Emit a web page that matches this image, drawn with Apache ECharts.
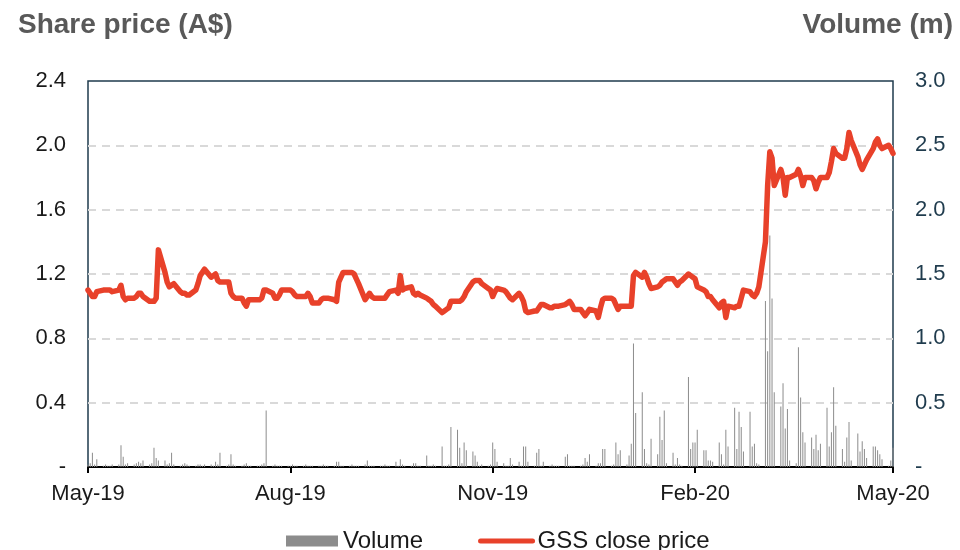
<!DOCTYPE html>
<html>
<head>
<meta charset="utf-8">
<script src="https://cdn.jsdelivr.net/npm/echarts@6/dist/echarts.min.js"></script>
<style>
  html, body { margin: 0; padding: 0; background: #fff; }
  #chart { width: 960px; height: 550px; }
</style>
</head>
<body>
<div id="chart"></div>
<script>
// first and last trading day shown
const startDate = new Date(2019, 3, 29);
const endDate = new Date(2020, 3, 29);

const tickLabels = ['May-19', 'Aug-19', 'Nov-19', 'Feb-20', 'May-20'];
const tickDayOffsets = [0, 92, 184, 276, 366];

// GSS close price (A$), one row per week, Mon..Fri
const price = [
  1.10, 1.08, 1.06, 1.06, 1.09,
  1.10, 1.10, 1.10, 1.10, 1.09,
  1.10, 1.13, 1.06, 1.04, 1.05,
  1.05, 1.06, 1.08, 1.08, 1.06,
  1.03, 1.03, 1.03, 1.05, 1.35,
  1.21, 1.15, 1.12, 1.13, 1.14,
  1.09, 1.08, 1.08, 1.07, 1.07,
  1.10, 1.14, 1.19, 1.21, 1.23,
  1.18, 1.19, 1.20, 1.16, 1.15,
  1.15, 1.15, 1.08, 1.06, 1.05,
  1.05, 1.02, 1.00, 1.04, 1.04,
  1.04, 1.04, 1.05, 1.10, 1.10,
  1.08, 1.05, 1.05, 1.07, 1.10,
  1.10, 1.10, 1.09, 1.07, 1.06,
  1.06, 1.06, 1.08, 1.06, 1.02,
  1.02, 1.04, 1.05, 1.05, 1.05,
  1.04, 1.03, 1.15, 1.18, 1.21,
  1.21, 1.21, 1.20, 1.17, 1.14,
  1.04, 1.06, 1.08, 1.06, 1.05,
  1.05, 1.05, 1.05, 1.07, 1.09,
  1.10, 1.08, 1.19, 1.10, 1.11,
  1.12, 1.08, 1.07, 1.08, 1.07,
  1.05, 1.04, 1.03, 1.01, 1.00,
  0.96, 0.97, 0.98, 0.99, 1.03,
  1.03, 1.03, 1.04, 1.06, 1.09,
  1.15, 1.16, 1.16, 1.16, 1.14,
  1.11, 1.10, 1.06, 1.09, 1.11,
  1.10, 1.09, 1.07, 1.05, 1.04,
  1.08, 1.06, 1.03, 0.97, 0.96,
  0.97, 0.97, 0.99, 1.01, 1.01,
  0.99, 0.99, 1.00, 1.00, 1.00,
  1.01, 1.02, 1.03, 1.01, 0.98,
  0.98, 0.96, 0.94, 0.96, 0.98,
  0.97, 0.93, 0.99, 1.04, 1.05,
  1.05, 1.04, 1.01, 0.98, 1.00,
  1.00, 1.00, 1.00, 1.19, 1.21,
  1.18, 1.21, 1.18, 1.14, 1.11,
  1.12, 1.13, 1.15, 1.16, 1.17,
  1.17, 1.15, 1.13, 1.15, 1.16,
  1.20, 1.19, 1.18, 1.17, 1.12,
  1.10, 1.09, 1.06, 1.06, 1.04,
  0.99, 1.02, 1.03, 0.93, 1.00,
  0.99, 1.00, 1.00, 1.05, 1.10,
  1.09, 1.07, 1.06, 1.08, 1.12,
  1.40, 1.75, 1.96, 1.92, 1.75,
  1.85, 1.80, 1.69, 1.80, 1.80,
  1.82, 1.85, 1.81, 1.75, 1.80,
  1.80, 1.78, 1.73, 1.77, 1.80,
  1.80, 1.83, 1.90, 1.98, 1.95,
  1.92, 1.92, 1.98, 2.08, 2.03,
  1.93, 1.88, 1.85, 1.88, 1.91,
  1.98, 2.02, 2.04, 2.00, 1.98,
  2.00, 1.98, 1.95
];

// daily volume (m), same days
const volume = [
  0.02, 0.03, 0.11, 0.02, 0.06,
  0.01, 0.02, 0.01, 0.01, 0.02,
  0.02, 0.17, 0.08, 0.02, 0.03,
  0.02, 0.03, 0.04, 0.03, 0.05,
  0.02, 0.03, 0.15, 0.07, 0.05,
  0.05, 0.02, 0.03, 0.11, 0.02,
  0.01, 0.02, 0.03, 0.02, 0.01,
  0.01, 0.02, 0.02, 0.01, 0.02,
  0.02, 0.01, 0.04, 0.02, 0.11,
  0.01, 0.02, 0.10, 0.02, 0.01,
  0.01, 0.02, 0.03, 0.01, 0.01,
  0.01, 0.01, 0.02, 0.03, 0.44,
  0.01, 0.02, 0.01, 0.01, 0.01,
  0.01, 0.01, 0.02, 0.01, 0.01,
  0.01, 0.02, 0.01, 0.01, 0.01,
  0.01, 0.01, 0.02, 0.01, 0.01,
  0.01, 0.04, 0.04, 0.01, 0.01,
  0.01, 0.02, 0.01, 0.01, 0.01,
  0.02, 0.05, 0.01, 0.01, 0.01,
  0.01, 0.01, 0.02, 0.01, 0.01,
  0.04, 0.01, 0.06, 0.02, 0.01,
  0.01, 0.03, 0.03, 0.01, 0.01,
  0.09, 0.01, 0.01, 0.02, 0.01,
  0.16, 0.01, 0.01, 0.02, 0.31,
  0.29, 0.15, 0.03, 0.19, 0.13,
  0.12, 0.09, 0.04, 0.01, 0.02,
  0.01, 0.02, 0.19, 0.14, 0.04,
  0.03, 0.01, 0.01, 0.07, 0.02,
  0.04, 0.01, 0.16, 0.16, 0.04,
  0.01, 0.11, 0.14, 0.01, 0.04,
  0.01, 0.02, 0.01, 0.01, 0.01,
  0.08, 0.10, 0.01, 0.01, 0.01,
  0.01, 0.02, 0.07, 0.04, 0.10,
  0.01, 0.03, 0.03, 0.14, 0.14,
  0.01, 0.02, 0.19, 0.10, 0.13,
  0.02, 0.09, 0.18, 0.96, 0.42,
  0.58, 0.14, 0.03, 0.02, 0.22,
  0.10, 0.39, 0.21, 0.44, 0.03,
  0.11, 0.02, 0.07, 0.02, 0.01,
  0.70, 0.14, 0.19, 0.19, 0.29,
  0.13, 0.13, 0.05, 0.05, 0.04,
  0.19, 0.10, 0.02, 0.29, 0.16,
  0.46, 0.14, 0.43, 0.31, 0.12,
  0.43, 0.16, 0.18, 0.03, 0.02,
  1.29, 0.90, 1.80, 1.31, 0.58,
  0.47, 0.65, 0.30, 0.45, 0.05,
  0.03, 0.93, 0.54, 0.27, 0.19,
  0.23, 0.14, 0.25, 0.13, 0.18,
  0.46, 0.16, 0.27, 0.62, 0.32,
  0.14, 0.04, 0.23, 0.35, 0.05,
  0.26, 0.12, 0.20, 0.14, 0.07,
  0.16, 0.16, 0.13, 0.10, 0.06,
  0.01, 0.05, 0.15
];

// weekdays between start and end, as day numbers from the start
const DAY = 86400000;
const tradingDays = [];
for (let d = new Date(startDate); d <= endDate; d.setDate(d.getDate() + 1)) {
  if (d.getDay() !== 0 && d.getDay() !== 6) {
    tradingDays.push(Math.round((d - startDate) / DAY));
  }
}
const lastDay = Math.round((endDate - startDate) / DAY);

const font = 'Liberation Sans';
const teal = '#1f3b4d';
const red = '#e8412a';

const option = {
  animation: false,
  textStyle: { fontFamily: font },
  title: [
    {
      text: 'Share price (A$)', left: 13, top: 6,
      textStyle: { fontFamily: font, fontSize: 28, fontWeight: 'bold', color: '#595959' }
    },
    {
      text: 'Volume (m)', right: 2, top: 6,
      textStyle: { fontFamily: font, fontSize: 28, fontWeight: 'bold', color: '#595959' }
    }
  ],
  grid: {
    left: 88, right: 67, top: 81, bottom: 83,
    show: true, borderColor: teal, borderWidth: 1.5
  },
  legend: {
    left: 281, top: 524,
    itemWidth: 52, itemHeight: 11, itemGap: 55,
    textStyle: { fontFamily: font, fontSize: 24, color: '#1a1a1a' },
    data: [
      { name: 'Volume', icon: 'rect', itemStyle: { color: '#8c8c8c' } },
      {
        name: 'GSS close price',
        itemStyle: { color: 'rgba(0,0,0,0)', borderWidth: 0 },
        lineStyle: { color: red, width: 5, cap: 'round' }
      }
    ]
  },
  xAxis: {
    type: 'value',
    min: 0,
    max: lastDay,
    axisLine: { onZero: false, lineStyle: { color: '#000', width: 2 } },
    axisTick: { show: true, customValues: tickDayOffsets, length: 6, lineStyle: { color: '#000', width: 2 } },
    axisLabel: {
      customValues: tickDayOffsets,
      formatter: v => tickLabels[tickDayOffsets.indexOf(Math.round(v))] || '',
      fontSize: 22, color: '#1a1a1a', margin: 16
    },
    splitLine: { show: false }
  },
  yAxis: [
    {
      type: 'value', min: 0, max: 2.4, interval: 0.4,
      axisLine: { show: false },
      axisTick: { show: false },
      axisLabel: {
        fontSize: 22, color: '#1a1a1a', margin: 22,
        formatter: v => v === 0 ? '-' : v.toFixed(1)
      },
      splitLine: {
        showMinLine: false, showMaxLine: false,
        lineStyle: { color: '#d9d9d9', width: 2, type: [8, 6] }
      }
    },
    {
      type: 'value', min: 0, max: 3.0, interval: 0.5,
      axisLine: { show: false },
      axisTick: { show: false },
      axisLabel: {
        fontSize: 22, color: teal, margin: 22,
        formatter: v => v === 0 ? '-' : v.toFixed(1)
      },
      splitLine: { show: false }
    }
  ],
  series: [
    {
      name: 'Volume',
      type: 'bar',
      yAxisIndex: 1,
      barWidth: 1,
      itemStyle: { color: '#8c8c8c' },
      data: tradingDays.map((t, i) => [t, volume[i]])
    },
    {
      name: 'GSS close price',
      type: 'line',
      yAxisIndex: 0,
      symbol: 'none',
      z: 5,
      lineStyle: { color: red, width: 5.5, join: 'round', cap: 'round' },
      itemStyle: { color: red },
      data: tradingDays.map((t, i) => [t, price[i]])
    }
  ]
};

const chart = echarts.init(document.getElementById('chart'));
chart.setOption(option);
</script>
</body>
</html>
